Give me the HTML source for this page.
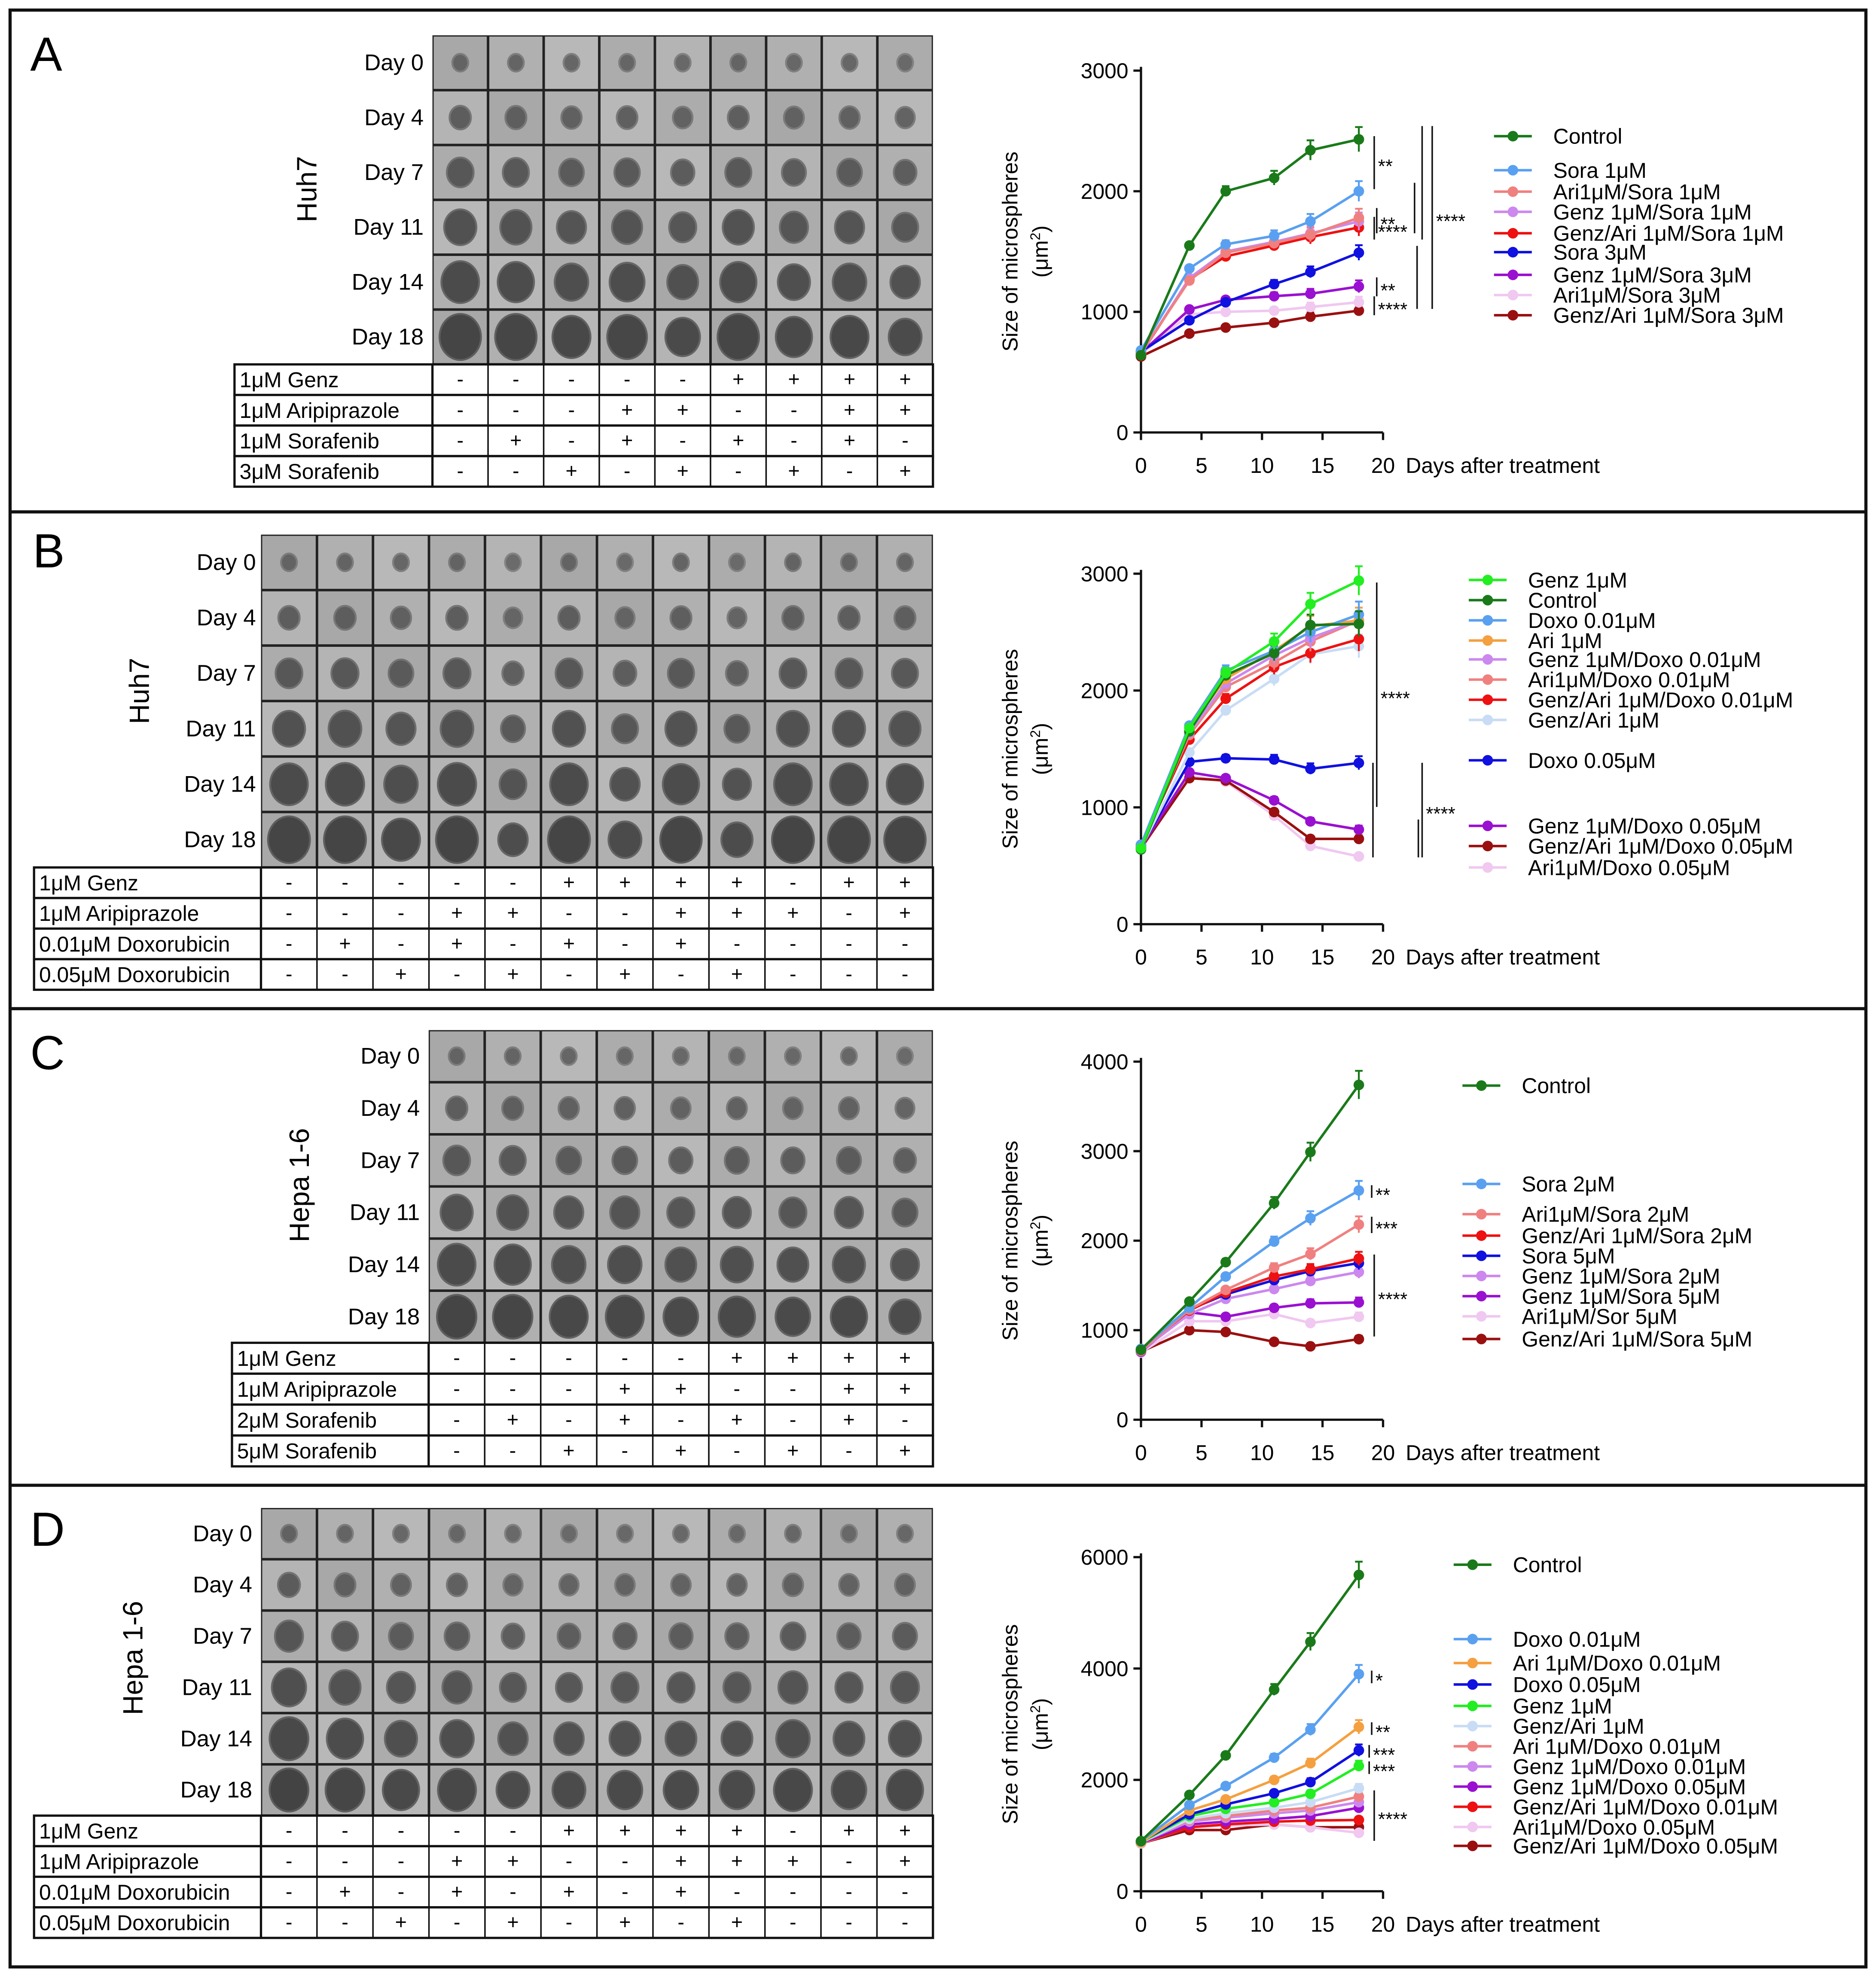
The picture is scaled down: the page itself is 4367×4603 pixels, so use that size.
<!DOCTYPE html>
<html><head><meta charset="utf-8">
<style>
html,body{margin:0;padding:0;background:#fff;}
svg{display:block;font-family:"Liberation Sans",Arial,sans-serif;}
</style></head>
<body>
<svg id="fig" width="4367" height="4603" viewBox="0 0 1488 1568" preserveAspectRatio="none" xmlns="http://www.w3.org/2000/svg">
<rect x="0" y="0" width="1488" height="1568" fill="#fff"/>
<rect x="8" y="8" width="1472" height="1552" fill="none" stroke="#111" stroke-width="2.5"/>
<line x1="8" y1="406" x2="1480" y2="406" stroke="#111" stroke-width="2.5"/>
<line x1="8" y1="800" x2="1480" y2="800" stroke="#111" stroke-width="2.5"/>
<line x1="8" y1="1178" x2="1480" y2="1178" stroke="#111" stroke-width="2.5"/>
<text x="24" y="56" font-size="38">A</text>
<text x="26" y="450" font-size="38">B</text>
<text x="24" y="848" font-size="38">C</text>
<text x="24" y="1226" font-size="38">D</text>
<g id="layer"></g>
</svg>
<script>
// ---------- DATA ----------
const days = [0, 4, 7, 11, 14, 18];
const xTicks = [0, 5, 10, 15, 20];

const labelsA = ["Control","Sora 1μM","Ari1μM/Sora 1μM","Genz 1μM/Sora 1μM","Genz/Ari 1μM/Sora 1μM","Sora 3μM","Genz 1μM/Sora 3μM","Ari1μM/Sora 3μM","Genz/Ari 1μM/Sora 3μM"];
const colorsA = ["#1a7a1a","#5aa0f0","#f08080","#cc88ee","#ee1111","#1010e0","#9a10d0","#f0c8f0","#9a1010"];
const valuesA = [
 [640,1550,2000,2110,2340,2430],
 [680,1360,1560,1630,1750,2000],
 [660,1260,1490,1570,1640,1780],
 [650,1280,1500,1580,1650,1750],
 [650,1270,1460,1550,1620,1700],
 [670,930,1080,1230,1330,1490],
 [660,1020,1100,1130,1150,1210],
 [650,980,1000,1010,1040,1080],
 [630,820,870,910,960,1010]
];
const yTicksA = [0,1000,2000,3000];

const labelsB = ["Genz 1μM","Control","Doxo 0.01μM","Ari 1μM","Genz 1μM/Doxo 0.01μM","Ari1μM/Doxo 0.01μM","Genz/Ari 1μM/Doxo 0.01μM","Genz/Ari 1μM","Doxo 0.05μM","Genz 1μM/Doxo 0.05μM","Genz/Ari 1μM/Doxo 0.05μM","Ari1μM/Doxo 0.05μM"];
const colorsB = ["#22ee22","#1a7a1a","#5aa0f0","#f5a040","#cc88ee","#f08080","#ee1111","#c8dcf5","#1010e0","#9a10d0","#9a1010","#f0c8f0"];
const valuesB = [
 [650,1680,2150,2420,2740,2940],
 [640,1650,2130,2320,2560,2570],
 [680,1700,2170,2340,2500,2650],
 [670,1680,2100,2340,2550,2600],
 [660,1640,2060,2300,2450,2600],
 [670,1620,2030,2240,2420,2600],
 [680,1580,1930,2200,2320,2440],
 [650,1470,1830,2100,2310,2380],
 [660,1390,1420,1410,1330,1380],
 [660,1300,1250,1060,880,810],
 [650,1250,1230,960,730,730],
 [640,1270,1220,930,670,580]
];
const yTicksB = [0,1000,2000,3000];

const labelsC = ["Control","Sora 2μM","Ari1μM/Sora 2μM","Genz/Ari 1μM/Sora 2μM","Sora 5μM","Genz 1μM/Sora 2μM","Genz 1μM/Sora 5μM","Ari1μM/Sor 5μM","Genz/Ari 1μM/Sora 5μM"];
const colorsC = ["#1a7a1a","#5aa0f0","#f08080","#ee1111","#1010e0","#cc88ee","#9a10d0","#f0c8f0","#9a1010"];
const valuesC = [
 [780,1320,1760,2420,2990,3740],
 [790,1250,1600,1990,2250,2560],
 [770,1230,1450,1700,1850,2180],
 [780,1220,1420,1600,1680,1800],
 [790,1230,1400,1560,1660,1750],
 [770,1180,1350,1460,1550,1650],
 [760,1200,1150,1250,1300,1310],
 [750,1100,1100,1180,1080,1150],
 [760,1000,980,870,820,900]
];
const yTicksC = [0,1000,2000,3000,4000];

const labelsD = ["Control","Doxo 0.01μM","Ari 1μM/Doxo 0.01μM","Doxo 0.05μM","Genz 1μM","Genz/Ari 1μM","Ari 1μM/Doxo 0.01μM","Genz 1μM/Doxo 0.01μM","Genz 1μM/Doxo 0.05μM","Genz/Ari 1μM/Doxo 0.01μM","Ari1μM/Doxo 0.05μM","Genz/Ari 1μM/Doxo 0.05μM"];
const colorsD = ["#1a7a1a","#5aa0f0","#f5a040","#1010e0","#22ee22","#c8dcf5","#f08080","#cc88ee","#9a10d0","#ee1111","#f0c8f0","#9a1010"];
const valuesD = [
 [900,1730,2440,3620,4480,5680],
 [900,1550,1890,2400,2900,3900],
 [880,1450,1650,2000,2300,2950],
 [890,1380,1560,1760,1960,2530],
 [880,1350,1480,1600,1750,2250],
 [870,1300,1400,1500,1600,1850],
 [880,1280,1350,1450,1500,1700],
 [880,1250,1320,1400,1450,1600],
 [870,1200,1250,1300,1350,1500],
 [870,1150,1200,1250,1270,1280],
 [860,1150,1180,1200,1150,1050],
 [860,1100,1100,1200,1150,1150]
];
const yTicksD = [0,2000,4000,6000];

const tableRowsA = ["1μM Genz","1μM Aripiprazole","1μM Sorafenib","3μM Sorafenib"];
const tableValsA = ["-----++++","---++--++","-+-+-+-+-","--+-+-+-+"];
const tableRowsB = ["1μM Genz","1μM Aripiprazole","0.01μM Doxorubicin","0.05μM Doxorubicin"];
const tableValsB = ["-----++++-++","---++--+++-+","-+-+-+-+----","--+-+-+-+---"];
const tableRowsC = ["1μM Genz","1μM Aripiprazole","2μM Sorafenib","5μM Sorafenib"];
const tableValsC = tableValsA;
const tableRowsD = tableRowsB;
const tableValsD = tableValsB;
const dayLabels = ["Day 0","Day 4","Day 7","Day 11","Day 14","Day 18"];

// ---------- DRAW ----------
const NS = "http://www.w3.org/2000/svg";
const layer = document.getElementById("layer");
function mk(tag, attrs, parent, txt) {
  const e = document.createElementNS(NS, tag);
  for (const k in attrs) e.setAttribute(k, attrs[k]);
  if (txt !== undefined) e.textContent = txt;
  (parent || layer).appendChild(e);
  return e;
}

function drawPhotos(p) {
  const g = mk("g", {});
  
  
  const cols = p.vals[0].length;
  const cw = (p.x1 - p.x0) / cols, rh = (p.y1 - p.y0) / 6;
  mk("rect", {x:p.x0, y:p.y0, width:p.x1-p.x0, height:p.y1-p.y0, fill:"#222"}, g);
  for (let r = 0; r < 6; r++) {
    const t = mk("text", {x:p.dx, y:p.y0 + rh*r + rh/2 + 6, "text-anchor":"end", "font-size":18}, g, dayLabels[r]);
    
    
    for (let c = 0; c < cols; c++) {
      const x = p.x0 + c*cw, y = p.y0 + r*rh;
      const bg = 168 + ((c*7 + r*3) % 5) * 4;
      const cell = mk("rect", {x:x+1, y:y+1, width:cw-2, height:rh-2, fill:`rgb(${bg},${bg},${bg})`}, g);
      
      
      const growth = p.growth[c];
      const rad = Math.min(rh*0.42, 7 + r*growth*0.75);
      const dark = 115 - r*6 - growth*5;
      mk("ellipse", {cx:x+cw/2, cy:y+rh/2, rx:rad*0.9, ry:rad, fill:`rgb(${dark},${dark},${dark})`, stroke:`rgb(${dark+25},${dark+25},${dark+25})`, "stroke-width":1.5}, g);
    }
  }
  const tg = mk("g", {});
  
  
  const th = (p.ty1 - p.y1) / 4;
  for (let r = 0; r < 4; r++) {
    const y = p.y1 + r*th;
    mk("rect", {x:p.tx, y:y, width:p.x1-p.tx, height:th, fill:"#fff", stroke:"#111", "stroke-width":1.8}, tg);
    mk("line", {x1:p.x0, y1:y, x2:p.x0, y2:y+th, stroke:"#111", "stroke-width":1.8}, tg);
    const lt = mk("text", {x:p.tx+4, y:y+th/2+6, "font-size":17}, tg, p.rows[r]);
    
    
    for (let c = 0; c < cols; c++) {
      const x = p.x0 + c*cw;
      if (c > 0) mk("line", {x1:x, y1:y, x2:x, y2:y+th, stroke:"#111", "stroke-width":1.2}, tg);
      mk("text", {x:x+cw/2, y:y+th/2+5, "text-anchor":"middle", "font-size":16}, tg, p.vals[r][c]);
    }
  }
  const cl = mk("text", {x:0, y:0, "font-size":22, "text-anchor":"middle", transform:`translate(${p.lx},${p.ly}) rotate(-90)`}, g, p.cell);
  
  
}

function drawChart(c) {
  const g = mk("g", {});
  
  
  const X = d => c.xa + (d/20)*(c.xb - c.xa);
  const Y = v => c.y0 - (v/c.ymax)*(c.y0 - c.ytop);
  const yaxis = mk("line", {x1:c.xa, y1:Y(c.ymax)-3, x2:c.xa, y2:c.y0, stroke:"#111", "stroke-width":1.8}, g);
  
  
  const xaxis = mk("line", {x1:c.xa, y1:c.y0, x2:c.xb, y2:c.y0, stroke:"#111", "stroke-width":1.8}, g);
  
  
  c.yt.forEach(v => {
    mk("line", {x1:c.xa-6, y1:Y(v), x2:c.xa, y2:Y(v), stroke:"#111", "stroke-width":1.8}, g);
    const t = mk("text", {x:c.xa-10, y:Y(v)+6, "text-anchor":"end", "font-size":17}, g, v);
    
    
  });
  xTicks.forEach(d => {
    mk("line", {x1:X(d), y1:c.y0, x2:X(d), y2:c.y0+6, stroke:"#111", "stroke-width":1.8}, g);
    const t = mk("text", {x:X(d), y:c.y0+32, "text-anchor":"middle", "font-size":17}, g, d);
    
    
  });
  const xt = mk("text", {x:c.xb+18, y:c.y0+32, "font-size":17}, g, "Days after treatment");
  
  
  const mid = (c.y0 + c.ytop)/2;
  const yt = mk("text", {x:0, y:0, "font-size":17, "text-anchor":"middle", transform:`translate(${c.xa-98},${mid}) rotate(-90)`}, g, "Size of microspheres");
  
  
  const yu = mk("text", {x:0, y:0, "font-size":17, "text-anchor":"middle", transform:`translate(${c.xa-74},${mid}) rotate(-90)`}, g);
  
  
  yu.appendChild(document.createTextNode("(μm"));
  mk("tspan", {dy:-6, "font-size":11}, yu, "2");
  mk("tspan", {dy:6}, yu, ")");
  for (let s = c.vals.length - 1; s >= 0; s--) {
    const vals = c.vals[s], col = c.colors[s];
    const sg = mk("g", {}, g);
    
    
    mk("polyline", {points: vals.map((v,i)=>X(days[i])+","+Y(v)).join(" "), fill:"none", stroke:col, "stroke-width":2}, sg);
    vals.forEach((v,i) => {
      const e = v * 0.035 * (i/5 + 0.2);
      mk("line", {x1:X(days[i]), y1:Y(v+e), x2:X(days[i]), y2:Y(v-e), stroke:col, "stroke-width":1.5}, sg);
      mk("line", {x1:X(days[i])-3, y1:Y(v+e), x2:X(days[i])+3, y2:Y(v+e), stroke:col, "stroke-width":1.5}, sg);
      const pt = mk("circle", {cx:X(days[i]), cy:Y(v), r:4.2, fill:col}, sg);
      
      
    });
  }
  c.labels.forEach((lab, i) => {
    const ly = c.leg[i];
    const lg = mk("g", {}, g);
    
    
    mk("line", {x1:c.lx, y1:ly, x2:c.lx+30, y2:ly, stroke:c.colors[i], "stroke-width":2}, lg);
    mk("circle", {cx:c.lx+15, cy:ly, r:4.2, fill:c.colors[i]}, lg);
    mk("text", {x:c.lx+47, y:ly+6, "font-size":17}, lg, lab);
  });
  (c.sig || []).forEach(s => {
    const sg = mk("g", {}, g);
    
    
    mk("line", {x1:s[0], y1:s[1], x2:s[0], y2:s[2], stroke:"#111", "stroke-width":1.2}, sg);
    if (s[3]) mk("text", {x:s[0]+3, y:(s[1]+s[2])/2+8, "font-size":15}, sg, s[3]);
  });
}

drawPhotos({name:"panel-a", x0:343, x1:740, y0:28, y1:289, ty1:386, tx:186, dx:336, rows:tableRowsA, vals:tableValsA, growth:[3.2,3.0,2.6,2.8,2.2,3.0,2.4,2.6,2.0], cell:"Huh7", lx:251, ly:150});
drawPhotos({name:"panel-b", x0:207, x1:740, y0:424, y1:688, ty1:785, tx:27, dx:203, rows:tableRowsB, vals:tableValsB, growth:[3.2,3.3,2.6,3.3,1.6,3.2,2.0,3.0,1.8,3.2,3.2,3.0], cell:"Huh7", lx:118, ly:548});
drawPhotos({name:"panel-c", x0:340, x1:740, y0:817, y1:1065, ty1:1163, tx:184, dx:333, rows:tableRowsC, vals:tableValsC, growth:[3.2,3.0,2.6,2.6,2.2,2.4,2.2,2.4,1.8], cell:"Hepa 1-6", lx:245, ly:940});
drawPhotos({name:"panel-d", x0:207, x1:740, y0:1196, y1:1440, ty1:1537, tx:27, dx:200, rows:tableRowsD, vals:tableValsD, growth:[3.6,3.0,2.4,2.6,2.0,2.0,2.2,2.2,2.2,2.6,2.2,2.4], cell:"Hepa 1-6", lx:113, ly:1315});

drawChart({name:"panel-a", xa:905, xb:1097, y0:343, ytop:56, ymax:3000, yt:yTicksA, labels:labelsA, colors:colorsA, vals:valuesA, lx:1185,
  leg:[108,135,152,168,185,200,218,234,250],
  sig:[[1090,108,150,"**"],[1092,165,185,"**"],[1090,172,190,"****"],[1122,145,185,""],[1128,100,190,""],[1092,220,235,"**"],[1090,235,250,"****"],[1124,195,245,""],[1136,100,245,"****"]]});
drawChart({name:"panel-b", xa:905, xb:1097, y0:733, ytop:455, ymax:3000, yt:yTicksB, labels:labelsB, colors:colorsB, vals:valuesB, lx:1165,
  leg:[460,476,492,508,523,539,555,571,603,655,671,688],
  sig:[[1092,462,640,"****"],[1089,605,680,""],[1128,605,680,"****"],[1125,650,680,""]]});
drawChart({name:"panel-c", xa:905, xb:1097, y0:1126, ytop:842, ymax:4000, yt:yTicksC, labels:labelsC, colors:colorsC, vals:valuesC, lx:1160,
  leg:[861,939,963,980,996,1012,1028,1044,1062],
  sig:[[1088,940,950,"**"],[1088,965,978,"***"],[1090,995,1060,"****"]]});
drawChart({name:"panel-d", xa:905, xb:1097, y0:1500, ytop:1235, ymax:6000, yt:yTicksD, labels:labelsD, colors:colorsD, vals:valuesD, lx:1153,
  leg:[1241,1300,1319,1336,1353,1369,1385,1401,1417,1433,1449,1464],
  sig:[[1088,1325,1335,"*"],[1088,1366,1376,"**"],[1086,1384,1394,"***"],[1086,1397,1407,"***"],[1090,1420,1460,"****"]]});
</script>
</body></html>
